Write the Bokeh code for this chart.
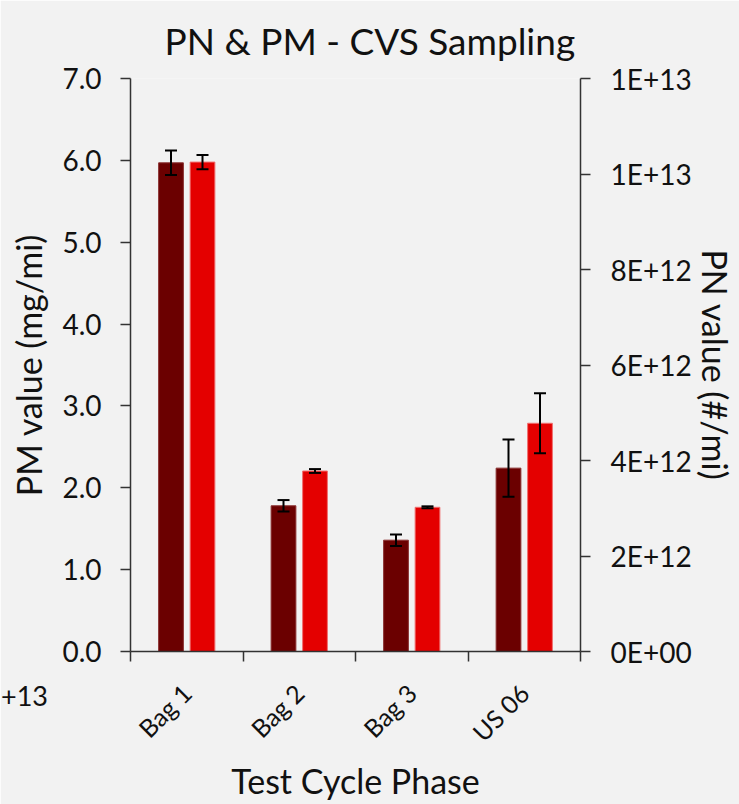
import math
from bokeh.plotting import figure
from bokeh.layouts import column
from bokeh.models import (Range1d, LinearAxis, FixedTicker, NumeralTickFormatter,
                          ColumnDataSource, Whisker, TeeHead, Div)
from bokeh.embed import file_html
from bokeh.resources import INLINE

categories = ["Bag 1", "Bag 2", "Bag 3", "US 06"]
pm_values = [5.97, 1.78, 1.36, 2.24]
pm_errors = [0.15, 0.07, 0.07, 0.35]
pn_values = [1.025e13, 3.78e12, 3.02e12, 4.78e12]
pn_errors = [1.5e11, 4.0e10, 2.0e10, 6.3e11]
pm_ticks = [0, 1, 2, 3, 4, 5, 6, 7]
pn_ticks = [0, 2e12, 4e12, 6e12, 8e12, 1.0e13, 1.2e13]
pn_tick_labels = ["0E+00", "2E+12", "4E+12", "6E+12", "8E+12", "1E+13", "1E+13"]
stray_text = "+13"

FONT = "Lato"
INK = "#111111"

n = len(categories)
centers = [i + 0.5 for i in range(n)]
boundaries = [i for i in range(n + 1)]
off = 0.14
bw = 0.22

pm_src = ColumnDataSource(dict(
    x=[c - off for c in centers], top=pm_values,
    lo=[v - e for v, e in zip(pm_values, pm_errors)],
    hi=[v + e for v, e in zip(pm_values, pm_errors)]))
pn_src = ColumnDataSource(dict(
    x=[c + off for c in centers], top=pn_values,
    lo=[v - e for v, e in zip(pn_values, pn_errors)],
    hi=[v + e for v, e in zip(pn_values, pn_errors)]))

p = figure(width=739, height=804, x_range=Range1d(0, n), y_range=Range1d(0, 7),
           output_backend="svg", toolbar_location=None,
           x_axis_type=None, y_axis_type=None,
           min_border_left=130, min_border_right=159,
           min_border_top=76, min_border_bottom=153)
p.extra_y_ranges = {"pn": Range1d(0, 1.2e13)}

bg = "#f2f2f2"
p.background_fill_color = bg
p.border_fill_color = bg
p.outline_line_color = None
p.grid.visible = False

p.title.text = "PN & PM - CVS Sampling"
p.title.align = "left"
p.title.offset = 34
p.title.text_font = FONT
p.title.text_font_size = "37px"
p.title.text_font_style = "normal"
p.title.text_color = INK
p.title.standoff = 31

# bars
p.vbar(x="x", top="top", width=bw, bottom=0, source=pm_src,
       fill_color="#6b0000", line_color="#8a3030", line_width=1)
p.vbar(x="x", top="top", width=bw, bottom=0, source=pn_src,
       fill_color="#e40000", line_color="#f07070", line_width=1, y_range_name="pn")

# error bars
def tee():
    return TeeHead(size=12, line_color="black", line_width=2)

w1 = Whisker(base="x", lower="lo", upper="hi", source=pm_src, level="annotation",
             line_color="black", line_width=2, upper_head=tee(), lower_head=tee())
w2 = Whisker(base="x", lower="lo", upper="hi", source=pn_src, y_range_name="pn",
             level="annotation",
             line_color="black", line_width=2, upper_head=tee(), lower_head=tee())
p.add_layout(w1)
p.add_layout(w2)

def style(ax):
    ax.major_label_text_font = FONT
    ax.major_label_text_font_size = "28px"
    ax.major_label_text_color = INK
    ax.axis_label_text_font = FONT
    ax.axis_label_text_font_size = "34px"
    ax.axis_label_text_font_style = "normal"
    ax.axis_label_text_color = INK
    ax.axis_line_color = "#333333"
    ax.axis_line_width = 1.5
    ax.major_tick_line_color = "#333333"
    ax.major_tick_line_width = 1.5
    ax.minor_tick_line_color = None
    ax.major_tick_in = 0
    ax.major_tick_out = 10

left = LinearAxis(ticker=FixedTicker(ticks=pm_ticks),
                  formatter=NumeralTickFormatter(format="0.0"),
                  axis_label="PM value (mg/mi)")
style(left)
left.major_label_standoff = 19
left.axis_label_standoff = 10
p.add_layout(left, "left")

right = LinearAxis(y_range_name="pn", ticker=FixedTicker(ticks=pn_ticks),
                   axis_label="PN value (#/mi)",
                   major_label_overrides={t: s for t, s in zip(pn_ticks, pn_tick_labels)})
style(right)
right.major_label_standoff = 20
right.axis_label_standoff = 0
p.add_layout(right, "right")

bottom = LinearAxis(ticker=FixedTicker(ticks=centers, minor_ticks=boundaries),
                    major_label_overrides={c: s for c, s in zip(centers, categories)},
                    axis_label="Test Cycle Phase")
style(bottom)
bottom.major_tick_line_color = None
bottom.major_tick_out = 0
bottom.minor_tick_line_color = "#333333"
bottom.minor_tick_line_width = 1.5
bottom.minor_tick_in = 0
bottom.minor_tick_out = 10
bottom.major_label_standoff = 27
bottom.major_label_text_font_size = "25px"
bottom.major_label_orientation = math.pi / 4
bottom.axis_label_standoff = 0
p.add_layout(bottom, "below")

# clipped fragment of text at the lower-left edge of the reference picture
stray = Div(text=stray_text, width=60, height=0,
            styles={"position": "absolute", "left": "-4px", "top": "675px",
                    "font-family": "Lato", "font-size": "27px", "line-height": "1.2",
                    "color": INK, "overflow": "visible", "z-index": "10"})

page = column(p, stray)
open("out.html", "w").write(file_html(page, INLINE))
